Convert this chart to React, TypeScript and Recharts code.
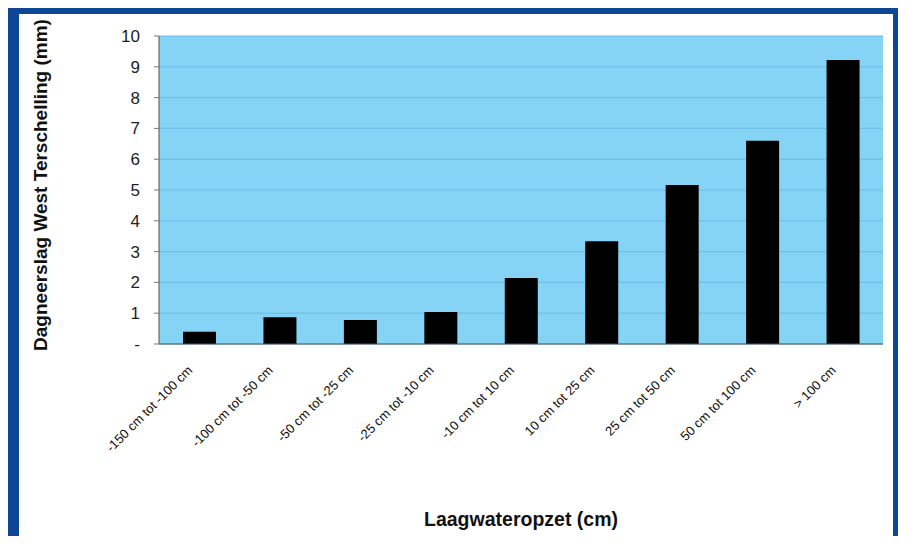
import { BarChart, Bar, XAxis, YAxis, CartesianGrid, Label } from "recharts";

// Laagwateropzet classes and mean daily rainfall at West Terschelling (mm)
const categories = [
  "-150 cm tot -100 cm",
  "-100 cm tot -50 cm",
  "-50 cm tot -25 cm",
  "-25 cm tot -10 cm",
  "-10 cm tot 10 cm",
  "10 cm tot 25 cm",
  "25 cm tot 50 cm",
  "50 cm tot 100 cm",
  "> 100 cm",
];
const rainfall = [0.4, 0.87, 0.78, 1.04, 2.14, 3.34, 5.16, 6.6, 9.22];
const yTicks = [0, 1, 2, 3, 4, 5, 6, 7, 8, 9, 10];

const data = categories.map((c, i) => ({ klasse: c, neerslag: rainfall[i] }));

const FONT = '"Liberation Sans", Arial, sans-serif';
const FRAME = "#0b4697";

function SlantedTick(props: any) {
  const { x, y, payload } = props;
  const tx = x - 6;
  const ty = y + 19;
  return (
    <text
      x={tx}
      y={ty}
      transform={`rotate(-45, ${tx}, ${ty})`}
      textAnchor="end"
      fontSize={13}
      fontFamily={FONT}
      fill="#111"
    >
      {payload.value}
    </text>
  );
}

export default function App() {
  return (
    <div style={{ position: "relative", width: 906, height: 544, margin: -8, background: "#fff" }}>
      <div
        style={{
          position: "absolute",
          left: 8,
          top: 3,
          width: 898,
          height: 541,
          boxSizing: "border-box",
          borderStyle: "solid",
          borderColor: FRAME,
          borderWidth: "11px 13px 7px 11px",
        }}
      />
      <div style={{ position: "absolute", left: 0, top: 0 }}>
        <BarChart
          width={906}
          height={544}
          data={data}
          margin={{ top: 36, right: 23, left: 0, bottom: 0 }}
          barSize={33}
        >
          <CartesianGrid
            vertical={false}
            fill="#85d3f5"
            fillOpacity={1}
            stroke="#6cbde6"
            horizontalValues={yTicks}
          />
          <XAxis
            dataKey="klasse"
            height={200}
            interval={0}
            tickLine={false}
            axisLine={{ stroke: "#555" }}
            tick={<SlantedTick />}
          >
            <Label
              content={() => (
                <text
                  x={521}
                  y={519}
                  textAnchor="middle"
                  dominantBaseline="central"
                  fontSize={19.5}
                  fontWeight="bold"
                  fontFamily={FONT}
                  fill="#111"
                >
                  Laagwateropzet (cm)
                </text>
              )}
            />
          </XAxis>
          <YAxis
            width={159}
            domain={[0, 10]}
            ticks={yTicks}
            interval={0}
            tickFormatter={(v: number) => (v === 0 ? "-" : String(v))}
            tickSize={5}
            tickLine={{ stroke: "#777" }}
            axisLine={{ stroke: "#555" }}
            tick={{ fontSize: 17, fontFamily: FONT, fill: "#222" }}
            tickMargin={14}
          >
            <Label
              content={() => (
                <text
                  x={40}
                  y={185}
                  transform="rotate(-90, 40, 185)"
                  textAnchor="middle"
                  dominantBaseline="central"
                  fontSize={19}
                  fontWeight="bold"
                  fontFamily={FONT}
                  fill="#111"
                >
                  Dagneerslag West Terschelling (mm)
                </text>
              )}
            />
          </YAxis>
          <YAxis
            yAxisId="frame"
            orientation="right"
            width={0}
            domain={[0, 10]}
            tick={false}
            tickLine={false}
            axisLine={{ stroke: "#777" }}
          />
          <Bar dataKey="neerslag" fill="#000" isAnimationActive={false} />
        </BarChart>
      </div>
    </div>
  );
}
